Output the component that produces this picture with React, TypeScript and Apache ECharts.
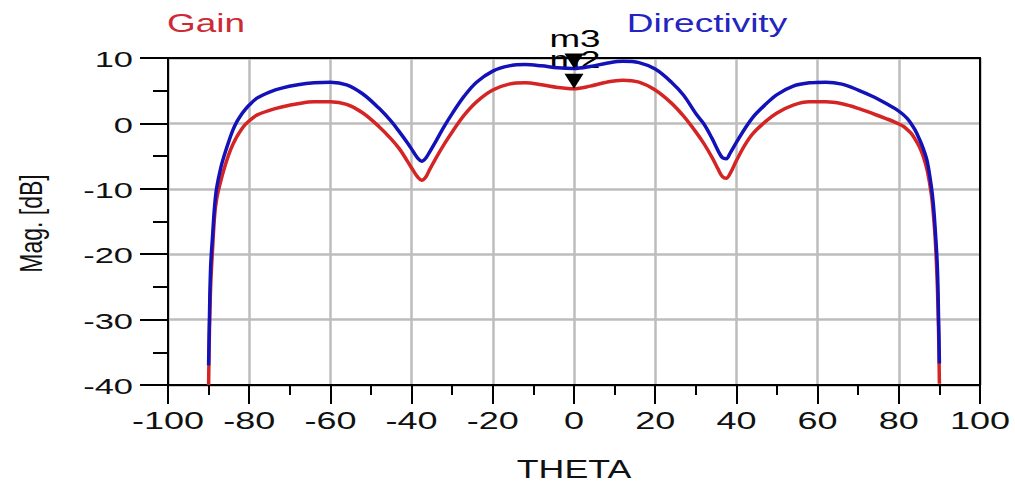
import React, { useEffect, useRef } from "react";
import * as echarts from "echarts";

const theta = [
  -90, -89.8, -89.5, -89, -88.5, -88, -87, -86, -85, -84, -83, -82, -81, -80, -78, -75, -72, -68, -64, -60, -56, -52,
  -48, -45, -43, -41, -39.5, -38.5, -37.5, -36.5, -35.5, -34, -32, -30, -27, -24, -20, -16, -12, -8, -4, 0, 4, 8, 12,
  16, 20, 24, 27, 30, 32, 34, 35.5, 36.5, 37.5, 38.5, 40, 42, 44, 47, 50, 54, 58, 62, 66, 70, 74, 77, 79, 81, 82, 83,
  84, 85, 86, 87, 88, 88.5, 89, 89.5, 89.8, 90,
];

const gain = [
  -40, -32, -25, -19, -14, -11.5, -8.8, -6.6, -4.7, -3.2, -2.0, -1.0, -0.2, 0.4, 1.3, 2.0, 2.5, 3.0, 3.3, 3.3, 2.9,
  1.6, -0.5, -2.4, -3.9, -5.8, -7.3, -8.2, -8.7, -8.2, -7.0, -5.3, -3.2, -1.3, 1.3, 3.3, 5.1, 6.0, 6.2, 5.9, 5.5, 5.3,
  5.7, 6.3, 6.6, 6.3, 5.1, 3.1, 1.1, -1.3, -3.1, -5.2, -7.0, -8.1, -8.4, -7.6, -5.7, -3.4, -1.6, 0.2, 1.6, 2.8, 3.3,
  3.3, 3.0, 2.3, 1.4, 0.7, 0.2, -0.4, -0.9, -1.5, -2.4, -3.5, -5.0, -7.2, -10.8, -13.8, -18, -25, -32, -39.8,
];

const directivity = [
  -37, -30, -22, -17, -12.5, -9.8, -6.8, -4.6, -2.7, -1.0, 0.3, 1.3, 2.1, 2.8, 3.9, 4.8, 5.4, 5.9, 6.2, 6.3, 5.9, 4.5,
  2.3, 0.3, -1.3, -3.0, -4.4, -5.3, -5.8, -5.3, -4.3, -2.7, -0.5, 1.5, 4.2, 6.3, 8.0, 8.8, 9.0, 8.8, 8.5, 8.4, 8.7,
  9.2, 9.5, 9.3, 8.3, 6.3, 4.3, 1.5, -0.1, -2.3, -4.2, -5.2, -5.4, -4.5, -2.9, -0.9, 0.9, 2.8, 4.4, 5.7, 6.2, 6.3, 6.0,
  5.1, 4.0, 3.0, 2.3, 1.4, 0.8, 0.0, -1.0, -2.3, -3.8, -5.8, -9.6, -12.3, -16.5, -22, -30, -36.7,
];

const xTicks = [-100, -80, -60, -40, -20, 0, 20, 40, 60, 80, 100];
const yTicks = [10, 0, -10, -20, -30, -40];
const markerTheta = 0;

const GAIN_COLOR = "#d42424";
const DIR_COLOR = "#1212b8";
const FONT = "'Liberation Sans', Arial, sans-serif";

export default function App() {
  const ref = useRef<HTMLDivElement>(null);

  useEffect(() => {
    document.body.style.margin = "0";
    if (!ref.current) return;
    const chart = echarts.init(ref.current, null, { renderer: "svg" });
    const mi = theta.indexOf(markerTheta);
    const m2 = gain[mi];
    const m3 = directivity[mi];

    const tri = (y: number) => ({
      coord: [markerTheta, y],
      symbol: "triangle",
      symbolRotate: 180,
      symbolSize: [19, 15],
      symbolOffset: [0, -7.5],
      itemStyle: { color: "#000" },
      label: { show: false },
    });

    const borderAxis = {
      type: "value",
      min: -100,
      max: 100,
      interval: 20,
      axisLine: { show: true, onZero: false, lineStyle: { color: "#000", width: 2 } },
      axisTick: { show: false },
      splitLine: { show: false },
      axisLabel: { show: false },
    };

    chart.setOption({
      animation: false,
      backgroundColor: "#fff",
      grid: { left: 168, top: 58, width: 812, height: 327 },
      xAxis: [
        {
          type: "value",
          min: -100,
          max: 100,
          interval: 20,
          position: "bottom",
          axisLine: { show: true, onZero: false, lineStyle: { color: "#000", width: 2 } },
          axisTick: { show: true, length: 19, lineStyle: { color: "#000", width: 2 } },
          minorTick: { show: true, splitNumber: 2, length: 10, lineStyle: { color: "#000", width: 2 } },
          splitLine: { show: true, lineStyle: { color: "#bdbdbd", width: 2.5 } },
          axisLabel: { show: false },
        },
        { ...borderAxis, position: "top" },
      ],
      yAxis: [
        {
          type: "value",
          min: -40,
          max: 10,
          interval: 10,
          position: "left",
          axisLine: { show: true, onZero: false, lineStyle: { color: "#000", width: 2 } },
          axisTick: { show: true, length: 28, lineStyle: { color: "#000", width: 2 } },
          minorTick: { show: true, splitNumber: 2, length: 15, lineStyle: { color: "#000", width: 2 } },
          splitLine: { show: true, lineStyle: { color: "#bdbdbd", width: 2.5 } },
          axisLabel: { show: false },
        },
        { ...borderAxis, min: -40, max: 10, interval: 10, position: "right" },
      ],
      series: [
        {
          name: "Gain",
          type: "line",
          data: theta.map((t, i) => [t, gain[i]]),
          showSymbol: false,
          smooth: 0.35,
          lineStyle: { color: GAIN_COLOR, width: 3.5 },
          z: 2,
          markPoint: { data: [tri(m2)], z: 6 },
        },
        {
          name: "Directivity",
          type: "line",
          data: theta.map((t, i) => [t, directivity[i]]),
          showSymbol: false,
          smooth: 0.35,
          lineStyle: { color: DIR_COLOR, width: 3.5 },
          z: 3,
          markPoint: { data: [tri(m3)], z: 7 },
        },
      ],
    });

    const px = (x: number, y: number) =>
      chart.convertToPixel({ xAxisIndex: 0, yAxisIndex: 0 }, [x, y]) as number[];
    const graphics: any[] = [];
    const base = px(0, -40)[1];
    const left = px(-100, 0)[0];

    xTicks.forEach((t) => {
      const p = px(t, -40);
      graphics.push({
        type: "text",
        x: p[0],
        y: base + 35,
        scaleX: 1.5,
        z: 100,
        style: { text: String(t), font: `24px ${FONT}`, fill: "#111", align: "center", verticalAlign: "middle" },
      });
    });
    yTicks.forEach((v) => {
      const p = px(-100, v);
      graphics.push({
        type: "text",
        x: left - 35,
        y: p[1] + 1,
        scaleX: 1.5,
        z: 100,
        style: { text: String(v), font: `23px ${FONT}`, fill: "#111", align: "right", verticalAlign: "middle" },
      });
    });
    const mid = px(0, -15);
    graphics.push({
      type: "text",
      x: mid[0],
      y: base + 84,
      scaleX: 1.43,
      z: 100,
      style: { text: "THETA", font: `25px ${FONT}`, fill: "#111", align: "center", verticalAlign: "middle" },
    });
    graphics.push({
      type: "text",
      x: 31,
      y: mid[1] + 2,
      rotation: Math.PI / 2,
      scaleY: 1.35,
      z: 100,
      style: { text: "Mag. [dB]", font: `23px ${FONT}`, fill: "#111", align: "center", verticalAlign: "middle" },
    });
    graphics.push({
      type: "text",
      x: 206,
      y: 23,
      scaleX: 1.42,
      z: 100,
      style: { text: "Gain", font: `26px ${FONT}`, fill: "#cc2a36", align: "center", verticalAlign: "middle" },
    });
    graphics.push({
      type: "text",
      x: 707,
      y: 23,
      scaleX: 1.48,
      z: 100,
      style: { text: "Directivity", font: `25px ${FONT}`, fill: "#2424c0", align: "center", verticalAlign: "middle" },
    });
    const p3 = px(markerTheta, m3);
    const p2 = px(markerTheta, m2);
    graphics.push({
      type: "text",
      x: p3[0] + 1,
      y: p3[1] - 29,
      scaleX: 1.6,
      z: 100,
      style: { text: "m3", font: `23px ${FONT}`, fill: "#000", align: "center", verticalAlign: "middle" },
    });
    graphics.push({
      type: "text",
      x: p2[0] + 1,
      y: p2[1] - 29,
      scaleX: 1.6,
      z: 1,
      style: { text: "m2", font: `23px ${FONT}`, fill: "#000", align: "center", verticalAlign: "middle" },
    });

    chart.setOption({ graphic: graphics });
    return () => chart.dispose();
  }, []);

  return (
    <div
      ref={ref}
      style={{ position: "fixed", left: 0, top: 0, width: 1015, height: 482, background: "#fff" }}
    />
  );
}
